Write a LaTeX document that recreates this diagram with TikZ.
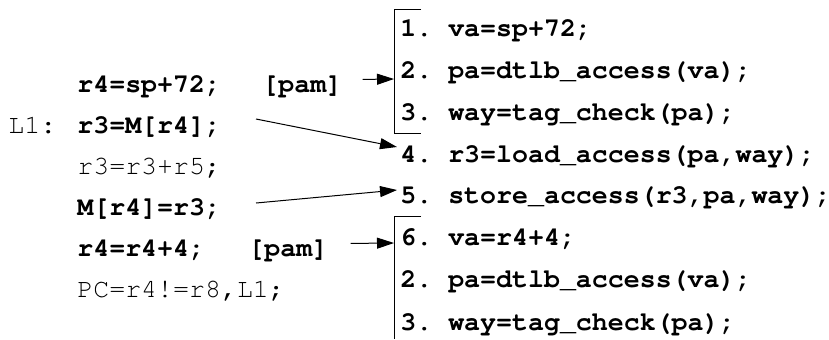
\documentclass[tikz,border=0pt]{standalone}
\usepackage[T1]{fontenc}
\usepackage{courier}
\usetikzlibrary{arrows.meta}

\tikzset{
  code/.style={anchor=base west, inner sep=0pt, font=\fontsize{13.3}{15}\selectfont\ttfamily\frenchspacing},
  hot/.style={code, font=\fontsize{13.3}{15}\selectfont\ttfamily\bfseries\frenchspacing},
  ptr/.style={-{Triangle[length=8.5pt,width=5.5pt]}, line width=0.5pt},
  brace/.style={line width=0.5pt}
}

\begin{document}
\begin{tikzpicture}[x=0.5pt,y=-0.5pt]
  \useasboundingbox (0,0) rectangle (829,339);

  % loop body
  \node[code] (lab) at (8,133) {L1:};
  \node[hot]  (s1) at (77,92)  {r4=sp+72;};
  \node[hot]  (pam1) at (262,92) {[pam]};
  \node[hot]  (s2) at (77,133) {r3=M[r4];};
  \node[code] (s3) at (77,174) {r3=r3+r5;};
  \node[hot]  (s4) at (77,215) {M[r4]=r3;};
  \node[hot]  (s5) at (77,256) {r4=r4+4;};
  \node[hot]  (pam2) at (248,256) {[pam]};
  \node[code] (s6) at (77,297) {PC=r4!=r8,L1;};

  % micro-operations
  \node[hot] (u1) at (400,36)  {1. va=sp+72;};
  \node[hot] (u2) at (400,78)  {2. pa=dtlb\_access(va);};
  \node[hot] (u3) at (400,120) {3. way=tag\_check(pa);};
  \node[hot] (u4) at (400,162) {4. r3=load\_access(pa,way);};
  \node[hot] (u5) at (400,203) {5. store\_access(r3,pa,way);};
  \node[hot] (u6) at (400,245) {6. va=r4+4;};
  \node[hot] (u7) at (400,287) {2. pa=dtlb\_access(va);};
  \node[hot] (u8) at (400,330) {3. way=tag\_check(pa);};

  % brackets
  \draw[brace] (421,9) -- (394,9) -- (394,133) -- (421,133);
  \draw[brace] (421,216) -- (394,216) -- (394,339);

  \coordinate (b1) at (394,79);
  \coordinate (b2) at (394,243);
  \coordinate (a2) at (256,119);
  \coordinate (a3) at (256,203);

  \draw[ptr] (pam1.east) ++(20,-6) -- (b1);
  \draw[ptr] (a2) -- (397,147);
  \draw[ptr] (a3) -- (397,190);
  \draw[ptr] (pam2.east) ++(22,-6) -- (b2);
\end{tikzpicture}
\end{document}
